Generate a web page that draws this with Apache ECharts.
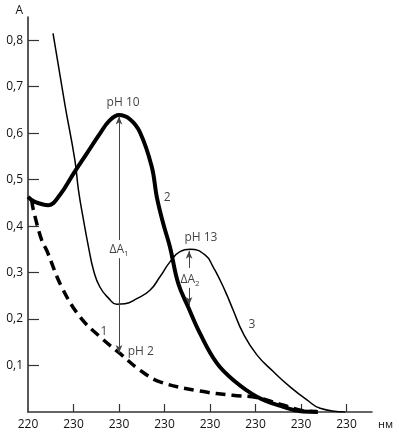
<!DOCTYPE html>
<html>
<head>
<meta charset="utf-8">
<script src="https://cdn.jsdelivr.net/npm/echarts@6/dist/echarts.min.js"></script>
<style>
  html, body { margin: 0; padding: 0; background: #fff; }
  #chart { width: 399px; height: 435px; }
</style>
</head>
<body>
<div id="chart"></div>
<script>
// axis ticks
const xTicks = [220, 230, 240, 250, 260, 270, 280, 290];
const tickLabels = ['220', '230', '230', '230', '230', '230', '230', '230'];
const yTicks = [0.1, 0.2, 0.3, 0.4, 0.5, 0.6, 0.7, 0.8];

// curve 1, pH 2 (dashed)
const ph2X = [220.8, 221.2, 223.0, 224.1, 227.4, 231.4, 235.8, 240.2, 244.6, 249.0, 257.8, 265.0, 270.3, 276.0, 280.4, 283.5];
const ph2A = [0.456, 0.434, 0.370, 0.348, 0.269, 0.205, 0.162, 0.126, 0.090, 0.065, 0.045, 0.036, 0.031, 0.015, 0.003, 0.001];

// curve 2, pH 10 (thick)
const ph10X = [220.0, 221.5, 224.5, 227.0, 230.0, 232.9, 235.8, 237.8, 240.0, 242.4, 244.6, 247.2, 248.3, 249.7, 251.2, 253.0, 255.2, 257.8, 261.5, 265.1, 270.3, 276.1, 280.4, 283.7];
const ph10A = [0.463, 0.452, 0.445, 0.467, 0.513, 0.556, 0.599, 0.626, 0.639, 0.630, 0.602, 0.528, 0.463, 0.406, 0.355, 0.277, 0.226, 0.169, 0.105, 0.069, 0.033, 0.011, 0.001, 0];

// curve 3, pH 13 (thin)
const ph13X = [225.5, 228.1, 230.3, 231.1, 232.2, 233.3, 234.4, 235.8, 237.7, 239.5, 241.3, 243.9, 246.8, 249.0, 251.2, 253.4, 255.6, 258.9, 260.7, 262.2, 263.7, 265.1, 267.3, 270.3, 273.9, 277.6, 281.3, 284.2, 289.7];
const ph13A = [0.815, 0.662, 0.542, 0.477, 0.413, 0.355, 0.305, 0.269, 0.245, 0.232, 0.233, 0.244, 0.262, 0.291, 0.323, 0.345, 0.350, 0.338, 0.312, 0.284, 0.252, 0.219, 0.169, 0.123, 0.087, 0.054, 0.026, 0.008, 0];

// ΔA arrows (head at "to" end)
const arrowX = [240.0, 240.0, 255.4, 255.4];
const arrowFrom = [0.370, 0.331, 0.310, 0.267];
const arrowTo = [0.636, 0.127, 0.347, 0.230];

// text notes
const noteX = [240.9, 250.6, 258.0, 236.7, 244.8, 269.2, 240.0, 255.6];
const noteY = [0.665, 0.462, 0.376, 0.172, 0.129, 0.189, 0.350, 0.284];
const noteText = ['pH 10', '2', 'pH 13', '1', 'pH 2', '3', 'ΔA', 'ΔA'];
const noteSub = ['', '', '', '', '', '', '1', '2'];

const zip = (xs, ys) => xs.map((x, i) => [x, ys[i]]);
const font = 'Open Sans';

const chart = echarts.init(document.getElementById('chart'));
chart.setOption({
  animation: false,
  grid: { left: 28, right: 27, top: 17, bottom: 23 },
  xAxis: {
    type: 'value',
    min: 220,
    max: 295.6,
    interval: 10,
    name: 'нм',
    nameLocation: 'end',
    nameGap: 6,
    nameTextStyle: { color: '#111', fontFamily: font, fontSize: 11, verticalAlign: 'top', padding: [7, 0, 0, 0] },
    axisLine: { lineStyle: { color: '#333', width: 1.5 } },
    axisTick: { inside: true, length: 8, customValues: xTicks.slice(1), lineStyle: { color: '#333', width: 1.2 } },
    axisLabel: {
      customValues: xTicks,
      margin: 7,
      color: '#111',
      fontFamily: font,
      fontSize: 12,
      formatter: v => tickLabels[Math.round((v - 220) / 10)]
    },
    splitLine: { show: false }
  },
  yAxis: {
    type: 'value',
    min: 0,
    max: 0.85,
    interval: 0.1,
    name: 'A',
    nameLocation: 'end',
    nameGap: 0,
    nameTextStyle: { color: '#111', fontFamily: font, fontSize: 12, align: 'right', padding: [0, 5, 0, 0] },
    axisLine: { show: true, lineStyle: { color: '#222', width: 1.5 } },
    axisTick: { show: true, inside: true, length: 11, customValues: yTicks, lineStyle: { color: '#333', width: 1.2 } },
    axisLabel: {
      customValues: yTicks,
      margin: 5,
      color: '#111',
      fontFamily: font,
      fontSize: 12,
      formatter: v => v.toFixed(1).replace('.', ',')
    },
    splitLine: { show: false }
  },
  series: [
    {
      name: 'pH 2',
      type: 'line',
      data: zip(ph2X, ph2A),
      smooth: 0.4,
      showSymbol: false,
      lineStyle: { color: '#000', width: 3.5, type: [10, 6] }
    },
    {
      name: 'pH 10',
      type: 'line',
      data: zip(ph10X, ph10A),
      smooth: 0.4,
      showSymbol: false,
      lineStyle: { color: '#000', width: 4 }
    },
    {
      name: 'pH 13',
      type: 'line',
      data: zip(ph13X, ph13A),
      smooth: 0.5,
      showSymbol: false,
      lineStyle: { color: '#000', width: 1.5 },
      markLine: {
        silent: true,
        symbol: ['none', 'arrow'],
        symbolSize: [5, 8],
        label: { show: false },
        lineStyle: { color: '#444', width: 1, type: 'solid' },
        data: arrowX.map((x, i) => [{ coord: [x, arrowFrom[i]] }, { coord: [x, arrowTo[i]] }])
      }
    },
    {
      name: 'notes',
      type: 'scatter',
      symbolSize: 0,
      z: 10,
      data: noteX.map((x, i) => ({ value: [x, noteY[i]], name: noteText[i], sub: noteSub[i] })),
      label: {
        show: true,
        position: 'inside',
        color: '#111',
        fontFamily: font,
        fontSize: 12,
        formatter: p => p.data.sub ? '{m|' + p.name + '}{s|' + p.data.sub + '}' : p.name,
        rich: {
          m: { fontFamily: font, fontSize: 12, color: '#111' },
          s: { fontFamily: font, fontSize: 8, color: '#111', padding: [8, 0, 0, 0] }
        }
      }
    }
  ]
});
</script>
</body>
</html>
